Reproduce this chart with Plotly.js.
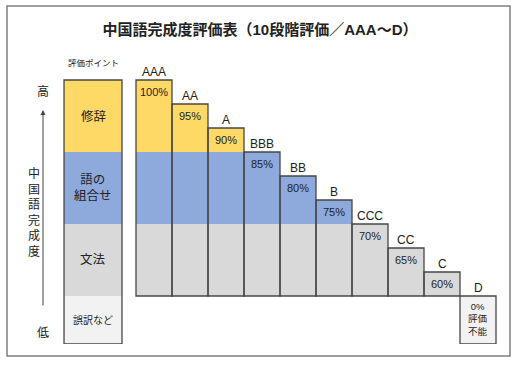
<!DOCTYPE html>
<html><head><meta charset="utf-8">
<script src="https://cdn.plot.ly/plotly-3.0.1.min.js"></script>
<style>body{margin:0;background:#fff}#c{width:520px;height:366px}</style>
</head><body><div id="c"></div>
<script>
// ---- data ----
const grades = ['AAA','AA','A','BBB','BB','B','CCC','CC','C','D'];
const scores = [100,95,90,85,80,75,70,65,60,0];
const scoreLabels = ['100%','95%','90%','85%','80%','75%','70%','65%','60%','0%<br>評価<br>不能'];
const bandNames = ['修辞','語の<br>組合せ','文法','誤訳など'];
const bandTops = [100,85,70,55];
const bandBottoms = [85,70,55,45];
const pointsTitle = '評価ポイント';
const axisTitle = '中<br>国<br>語<br>完<br>成<br>度';
const highLabel = '高', lowLabel = '低';
const chartTitle = '中国語完成度評価表（10段階評価／AAA～D）';

// ---- styles ----
const bandColors = ['#FFD966','#8EA9DB','#D9D9D9','#F2F2F2'];
const edge = '#474747';
const FONT = 'Liberation Sans, Arial, "Noto Sans CJK JP", sans-serif';
const colX = -1.694, colW = 1.611;

// geometry derived from data
const baseLine = bandBottoms[2];
const tops = scores.map(s => s > 0 ? s : baseLine);
const bottoms = scores.map(s => s > 0 ? baseLine : bandBottoms[3]);
const xs = grades.map((g,i)=>i);

const traces = [];
bandTops.forEach((bt,k)=>{
  const bb = bandBottoms[k];
  const x=[colX], base=[bb], y=[bt-bb], w=[colW];
  xs.forEach(i=>{
    const lo=Math.max(bottoms[i],bb), hi=Math.min(tops[i],bt);
    if(hi>lo){x.push(i);base.push(lo);y.push(hi-lo);w.push(1);}
  });
  traces.push({type:'bar',x:x,y:y,base:base,width:w,
    marker:{color:bandColors[k],line:{width:0}},hoverinfo:'skip',showlegend:false});
});
// outlines
traces.push({type:'bar',x:[colX].concat(xs),
  y:[bandTops[0]-bandBottoms[3]].concat(xs.map(i=>tops[i]-bottoms[i])),
  base:[bandBottoms[3]].concat(bottoms),
  width:[colW].concat(xs.map(()=>1)),
  marker:{color:'rgba(0,0,0,0)',line:{color:edge,width:1.3}},hoverinfo:'skip',showlegend:false});

const px = v => (v-55)/450, py = v => (344-v)/288;
const ann = [];
xs.forEach(i=>{
  ann.push({x:i,y:tops[i],xref:'x',yref:'y',text:grades[i],showarrow:false,
    xanchor:'center',yanchor:'bottom',yshift:-1,font:{family:FONT,size:12,color:'#222'}});
  ann.push({x:i,y:tops[i],xref:'x',yref:'y',text:scoreLabels[i],showarrow:false,
    xanchor:'center',yanchor:'top',yshift:scores[i]>0?-4:-3,
    font:{family:FONT,size:scores[i]>0?11:9.5,color:'#222'}});
});
bandNames.forEach((n,k)=>{
  ann.push({x:colX,y:(bandTops[k]+bandBottoms[k])/2,xref:'x',yref:'y',text:n,showarrow:false,
    xanchor:'center',yanchor:'middle',font:{family:FONT,size:k===3?10:12.5,color:'#222'}});
});
function pAnn(x,y,text,size){
  ann.push({x:px(x),y:py(y),xref:'paper',yref:'paper',text:text,showarrow:false,
    xanchor:'center',yanchor:'middle',font:{family:FONT,size:size,color:'#222'}});
}
pAnn(93,63,pointsTitle,8.5);
pAnn(34,212,axisTitle,12);
pAnn(43,92,highLabel,12);
pAnn(43,333,lowLabel,12);
ann.push({x:px(43),y:py(110),xref:'paper',yref:'paper',text:'',showarrow:true,
  ax:0,ay:197,arrowhead:2,arrowsize:1,arrowwidth:1,arrowcolor:'#444',standoff:0});

const layout = {
  width:520,height:366,margin:{l:55,r:15,t:56,b:22},
  paper_bgcolor:'#fff',plot_bgcolor:'rgba(0,0,0,0)',
  barmode:'overlay',bargap:0,
  title:{text:'<b>'+chartTitle+'</b>',x:0.5,xanchor:'center',y:1-30/366,yanchor:'middle',
    yref:'container',font:{family:FONT,size:15,color:'#222'}},
  xaxis:{range:[-2.75,9.75],showticklabels:false,showgrid:false,zeroline:false,showline:false,fixedrange:true},
  yaxis:{range:[45,105],showticklabels:false,showgrid:false,zeroline:false,showline:false,fixedrange:true},
  annotations:ann,
  shapes:[{type:'rect',xref:'paper',yref:'paper',x0:px(7),x1:px(510),y0:py(6),y1:py(356),
    line:{color:'#7f7f7f',width:1.5},fillcolor:'rgba(0,0,0,0)',layer:'below'}]
};
Plotly.newPlot('c',traces,layout,{staticPlot:true});
</script></body></html>
